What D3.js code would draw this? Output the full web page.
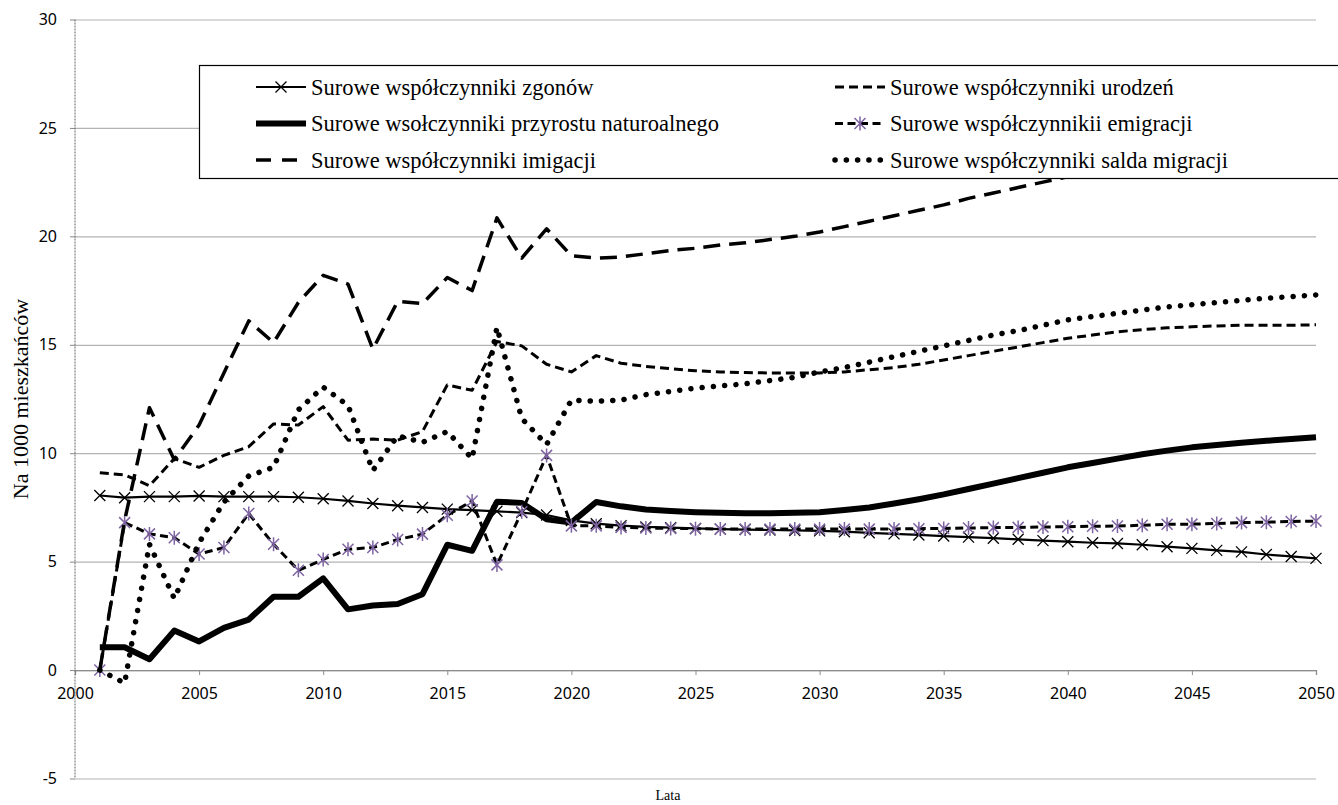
<!DOCTYPE html>
<html>
<head>
<meta charset="utf-8">
<script src="https://cdn.jsdelivr.net/npm/d3@7"></script>
<style>
  body { margin: 0; background: #fff; }
  svg { display: block; }
</style>
</head>
<body>
<svg id="canvas" width="1338" height="805"></svg>
<script>
// lata 2001 - 2050
var years = d3.range(2001, 2051);

// surowe wspolczynniki, na 1000 mieszkancow
var zgonow = [8.05, 7.95, 8.0, 8.0, 8.03, 8.0, 8.0, 8.0, 7.97, 7.9,
  7.8, 7.68, 7.58, 7.5, 7.42, 7.38, 7.32, 7.26, 7.15, 6.9,
  6.75, 6.66, 6.6, 6.57, 6.53, 6.5, 6.48, 6.46, 6.44, 6.42,
  6.38, 6.33, 6.28, 6.23, 6.18, 6.13, 6.08, 6.03, 5.97, 5.92,
  5.87, 5.84, 5.78, 5.69, 5.61, 5.52, 5.45, 5.33, 5.24, 5.15];
var urodzen = [9.1, 9.0, 8.5, 9.75, 9.35, 9.9, 10.3, 11.35, 11.3, 12.15,
  10.6, 10.65, 10.6, 11.0, 13.15, 12.9, 15.15, 14.95, 14.1, 13.75,
  14.5, 14.15, 14.0, 13.9, 13.8, 13.75, 13.72, 13.7, 13.7, 13.7,
  13.75, 13.85, 13.95, 14.1, 14.3, 14.5, 14.7, 14.9, 15.1, 15.3,
  15.45, 15.6, 15.7, 15.78, 15.83, 15.87, 15.9, 15.9, 15.9, 15.92];
var przyrost = [1.05, 1.05, 0.5, 1.82, 1.32, 1.95, 2.33, 3.38, 3.38, 4.23,
  2.8, 2.98, 3.05, 3.5, 5.78, 5.5, 7.76, 7.71, 6.95, 6.8,
  7.75, 7.55, 7.4, 7.33, 7.28, 7.25, 7.23, 7.23, 7.25, 7.28,
  7.38, 7.5, 7.68, 7.88, 8.1, 8.35, 8.6, 8.85, 9.1, 9.35,
  9.55, 9.75, 9.95, 10.12, 10.27, 10.38, 10.48, 10.57, 10.66, 10.74];
var emigracja = [0, 6.8, 6.28, 6.1, 5.35, 5.65, 7.22, 5.8, 4.6, 5.1,
  5.57, 5.65, 6.02, 6.27, 7.14, 7.8, 4.85, 7.3, 9.9, 6.65,
  6.65, 6.58, 6.55, 6.53, 6.52, 6.5, 6.5, 6.5, 6.5, 6.5,
  6.5, 6.5, 6.51, 6.52, 6.53, 6.55, 6.57, 6.58, 6.6, 6.61,
  6.63, 6.64, 6.68, 6.72, 6.73, 6.76, 6.8, 6.82, 6.85, 6.87];
var imigracja = [0, 6.9, 12.1, 9.7, 11.3, 13.7, 16.1, 15.1, 16.95, 18.2,
  17.8, 14.8, 17.0, 16.9, 18.1, 17.5, 20.85, 19.0, 20.35, 19.1,
  19.0, 19.05, 19.2, 19.35, 19.45, 19.6, 19.7, 19.85, 20.0, 20.2,
  20.45, 20.7, 20.95, 21.2, 21.45, 21.75, 22.0, 22.25, 22.5, 22.75,
  23.0, 23.25, 23.5, 23.75, 24.0, 24.2, 24.4, 24.6, 24.8, 25.0];
var saldo = [0, -0.6, 5.8, 3.3, 5.87, 7.75, 8.95, 9.35, 12.0, 13.05,
  12.2, 9.2, 10.8, 10.5, 11.0, 9.75, 15.8, 11.6, 10.4, 12.45,
  12.4, 12.45, 12.7, 12.85, 13.0, 13.1, 13.2, 13.35, 13.5, 13.75,
  13.95, 14.2, 14.45, 14.7, 14.95, 15.2, 15.45, 15.65, 15.9, 16.15,
  16.3, 16.45, 16.6, 16.75, 16.85, 16.95, 17.05, 17.15, 17.22, 17.3];

var seriesNames = [
  'Surowe współczynniki zgonów',
  'Surowe współczynniki urodzeń',
  'Surowe wsołczynniki przyrostu naturoalnego',
  'Surowe współczynnikii emigracji',
  'Surowe współczynniki imigacji',
  'Surowe współczynniki salda migracji'
];
var xTicks = d3.range(2000, 2051, 5);
var yTicks = d3.range(-5, 31, 5);

// styles per series, same order as the names above
var series = [
  {name: seriesNames[0], values: zgonow, width: 2.2, dash: null, marker: 'x'},
  {name: seriesNames[1], values: urodzen, width: 3, dash: '9,5', marker: null},
  {name: seriesNames[2], values: przyrost, width: 6, dash: null, marker: null},
  {name: seriesNames[3], values: emigracja, width: 3, dash: '8,4.5', marker: 'star'},
  {name: seriesNames[4], values: imigracja, width: 3.5, dash: '17,9', marker: null},
  {name: seriesNames[5], values: saldo, width: 5.5, dash: '0.1,11.2', marker: null, round: true}
];

var svg = d3.select('#canvas');
var x = d3.scaleLinear().domain([2000, 2050]).range([75, 1316]);
var y = d3.scaleLinear().domain([-5, 30]).range([778.5, 19.5]);

var tickFont = '"Noto Sans", sans-serif';
var serif = '"Liberation Serif", "Times New Roman", serif';

// horizontal grid
svg.append('g')
  .attr('transform', 'translate(' + x(2000) + ',0)')
  .call(d3.axisLeft(y).tickValues(yTicks).tickSize(-(x(2050) - x(2000))).tickFormat(''))
  .call(g => g.select('.domain').remove())
  .selectAll('line').attr('stroke', '#b3b3b3').attr('stroke-width', 1.2);

// y axis ticks + labels
var yAxis = svg.append('g')
  .attr('transform', 'translate(' + x(2000) + ',0)')
  .call(d3.axisLeft(y).tickValues(yTicks).tickSize(5).tickPadding(13).tickFormat(d => String(d)));
yAxis.select('.domain').remove();
yAxis.selectAll('line').attr('stroke', '#888');
yAxis.selectAll('text').style('font', '16px ' + tickFont).attr('fill', '#000');

// x axis sits on zero
var xAxis = svg.append('g')
  .attr('transform', 'translate(0,' + y(0) + ')')
  .call(d3.axisBottom(x).tickValues(xTicks).tickSize(5).tickPadding(13).tickFormat(d3.format('d')));
xAxis.select('.domain').attr('stroke', '#8c8c8c').attr('stroke-width', 1.3);
xAxis.selectAll('line').attr('stroke', '#8c8c8c');
xAxis.selectAll('.tick').filter(d => d === 2000).select('line').remove();
xAxis.selectAll('text').style('font', '16px ' + tickFont).attr('fill', '#000');

// dotted vertical axis
svg.append('line')
  .attr('x1', x(2000)).attr('x2', x(2000))
  .attr('y1', y(30)).attr('y2', y(-5))
  .attr('stroke', '#666').attr('stroke-width', 1).attr('stroke-dasharray', '2,1');

// axis titles
svg.append('text')
  .attr('transform', 'translate(28,' + (y(30) + y(-5)) / 2 + ') rotate(-90)')
  .attr('text-anchor', 'middle')
  .style('font', '22px ' + serif)
  .text('Na 1000 mieszkańców');
svg.append('text')
  .attr('x', 668).attr('y', 800)
  .attr('text-anchor', 'middle')
  .style('font', '14px ' + serif)
  .text('Lata');

var line = d3.line()
  .x((d, i) => x(years[i]))
  .y(d => y(d));

var xMark = 'M-5.5,-5.5L5.5,5.5M-5.5,5.5L5.5,-5.5';
var starMark = 'M-5.5,-5.5L5.5,5.5M-5.5,5.5L5.5,-5.5M0,-7L0,7';

var plot = svg.append('g');
series.forEach(function (s) {
  var g = plot.append('g');
  g.append('path')
    .attr('d', line(s.values))
    .attr('fill', 'none')
    .attr('stroke', '#000')
    .attr('stroke-width', s.width)
    .attr('stroke-dasharray', s.dash)
    .attr('stroke-linecap', s.round ? 'round' : 'butt')
    .attr('stroke-linejoin', 'round');
  if (s.marker) {
    g.selectAll('path.mk')
      .data(s.values)
      .enter().append('path')
      .attr('class', 'mk')
      .attr('transform', (d, i) => 'translate(' + x(years[i]) + ',' + y(d) + ')')
      .attr('d', s.marker === 'x' ? xMark : starMark)
      .attr('fill', 'none')
      .attr('stroke', s.marker === 'x' ? '#000' : '#7f64a2')
      .attr('stroke-width', s.marker === 'x' ? 1.3 : 1.5);
  }
});

// legend, two columns, three rows
var legend = svg.append('g');
legend.append('rect')
  .attr('x', 199.5).attr('y', 65.5)
  .attr('width', 1200).attr('height', 113)
  .attr('fill', '#fff').attr('stroke', '#000').attr('stroke-width', 1.2);

series.forEach(function (s, i) {
  var col = i % 2, row = Math.floor(i / 2);
  var lx = col === 0 ? 256 : 835;
  var ly = 87 + row * 36.5;
  var item = legend.append('g').attr('transform', 'translate(' + lx + ',' + ly + ')');
  item.append('line')
    .attr('x1', 0).attr('x2', 50).attr('y1', 0).attr('y2', 0)
    .attr('stroke', '#000')
    .attr('stroke-width', s.width)
    .attr('stroke-dasharray', s.name === seriesNames[4] ? '15,11' : s.dash)
    .attr('stroke-linecap', s.round ? 'round' : 'butt');
  if (s.marker) {
    item.append('path')
      .attr('transform', 'translate(25,0)')
      .attr('d', s.marker === 'x' ? xMark : starMark)
      .attr('fill', 'none')
      .attr('stroke', s.marker === 'x' ? '#000' : '#7f64a2')
      .attr('stroke-width', s.marker === 'x' ? 1.3 : 1.5);
  }
  item.append('text')
    .attr('x', 55).attr('y', 7.5)
    .style('font', '22.5px ' + serif)
    .text(s.name);
});
</script>
</body>
</html>
